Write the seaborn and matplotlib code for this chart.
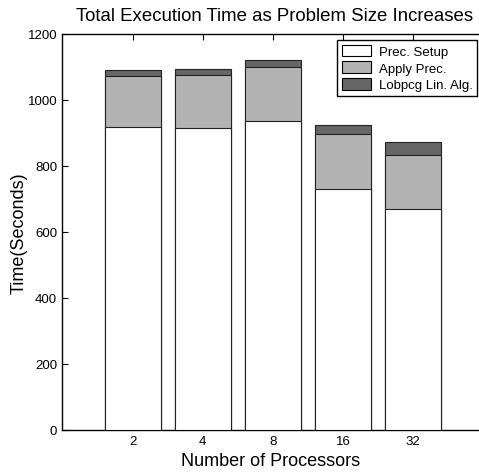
import matplotlib
matplotlib.use("Agg")
import matplotlib.pyplot as plt
import seaborn as sns
import pandas as pd
from matplotlib.patches import Patch

processors = ["2", "4", "8", "16", "32"]
prec_setup = [918, 914, 937, 731, 671]
apply_prec = [154, 162, 162, 167, 163]
lobpcg_lin_alg = [18, 19, 21, 26, 40]
series_names = ["Prec. Setup", "Apply Prec.", "Lobpcg Lin. Alg."]
colors = ["#ffffff", "#b3b3b3", "#666666"]

sns.set_style("ticks")
plt.rcParams["font.family"] = ["Liberation Sans", "DejaVu Sans"]
plt.rcParams["text.color"] = "black"
plt.rcParams["axes.labelcolor"] = "black"
plt.rcParams["xtick.color"] = "black"
plt.rcParams["ytick.color"] = "black"

df = pd.DataFrame({"proc": processors, "setup": prec_setup,
                   "apply": apply_prec, "lob": lobpcg_lin_alg})
df["lvl2"] = df["setup"] + df["apply"]
df["lvl3"] = df["lvl2"] + df["lob"]

fig = plt.figure(figsize=(4.79, 4.77), dpi=100)
ax = fig.add_axes([62/479, 1-431/477, 1-62/479, (431-35)/477])

for col, c in zip(["lvl3", "lvl2", "setup"], colors[::-1]):
    sns.barplot(data=df, x="proc", y=col, color=c, ax=ax, width=0.8,
                edgecolor="#222222", linewidth=0.8, saturation=1, zorder=3)

ax.set_xlim(-1.01, 4.94)
ax.set_ylim(0, 1200)
ax.set_yticks(range(0, 1201, 200))
ax.tick_params(axis="y", direction="in", length=4, labelsize=9.5, width=0.8, colors="black")
ax.tick_params(axis="x", direction="in", length=4, labelsize=9.5, top=True, width=0.8, colors="black")
ax.spines["right"].set_visible(False)
for s in ["left", "bottom", "top"]:
    ax.spines[s].set_linewidth(1.0)
    ax.spines[s].set_color("black")
ax.set_xlabel("Number of Processors", fontsize=13, labelpad=4, color="black")
ax.set_ylabel("Time(Seconds)", fontsize=13, labelpad=0, color="black")
ax.set_title("Total Execution Time as Problem Size Increases", fontsize=13.4, pad=10,
             x=0.51, color="black")

handles = [Patch(facecolor=c, edgecolor="black", linewidth=0.8) for c in colors]
leg = ax.legend(handles, series_names, loc="upper right", bbox_to_anchor=(0.996, 0.985),
                fontsize=9.5, frameon=True, fancybox=False, edgecolor="black",
                framealpha=1, borderpad=0.35, labelspacing=0.25, handlelength=2.2,
                handleheight=1.0, handletextpad=0.6, borderaxespad=0)
leg.get_frame().set_linewidth(1.0)
for t in leg.get_texts():
    t.set_color("black")

fig.savefig("out.png", dpi=100)
